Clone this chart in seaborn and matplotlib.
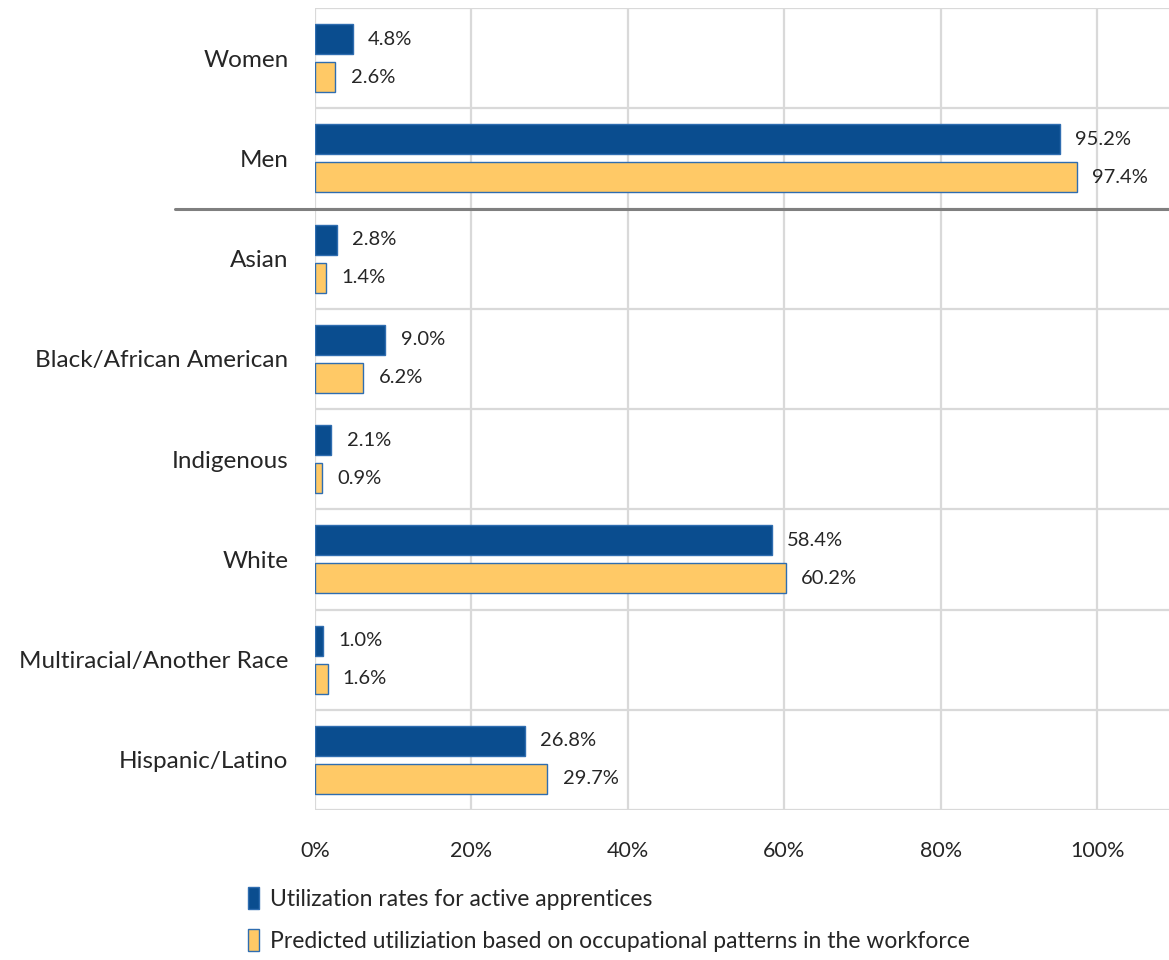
import matplotlib
matplotlib.use("Agg")
import matplotlib.pyplot as plt
import matplotlib.transforms as mtransforms
import seaborn as sns
import pandas as pd

# Groups shown on the vertical axis, top to bottom
categories = [
    "Women", "Men", "Asian", "Black/African American", "Indigenous",
    "White", "Multiracial/Another Race", "Hispanic/Latino",
]
# Share of active apprentices (percent)
apprentice_rates = [4.8, 95.2, 2.8, 9.0, 2.1, 58.4, 1.0, 26.8]
# Share predicted from occupational patterns in the workforce (percent)
predicted_rates = [2.6, 97.4, 1.4, 6.2, 0.9, 60.2, 1.6, 29.7]

series_names = [
    "Utilization rates for active apprentices",
    "Predicted utiliziation based on occupational patterns in the workforce",
]
x_ticks = [0, 20, 40, 60, 80, 100]
x_tick_labels = ["0%", "20%", "40%", "60%", "80%", "100%"]

BLUE = "#0A4D8F"
GOLD = "#FFC966"
EDGE = "#2F6DB0"
GRID = "#D9D9D9"

df = pd.DataFrame({
    "group": categories * 2,
    "series": [series_names[0]] * len(categories) + [series_names[1]] * len(categories),
    "value": apprentice_rates + predicted_rates,
})

sns.set_theme(style="white")
plt.rcParams["font.family"] = ["Lato", "DejaVu Sans"]

fig = plt.figure(figsize=(11.69, 9.6), dpi=100)
ax = fig.add_axes([315 / 1169, 1 - 810 / 960, 1 - 315 / 1169, (810 - 8) / 960])

sns.barplot(
    data=df, y="group", x="value", hue="series", order=categories,
    hue_order=series_names, palette=[BLUE, GOLD], saturation=1, orient="h",
    width=0.76, gap=0.21, edgecolor=EDGE, linewidth=1.0,
    errorbar=None, ax=ax, legend=True,
)

ax.set_xlim(0, 109.2)
ax.set_ylim(len(categories) - 0.5, -0.5)
ax.set_xlabel("")
ax.set_ylabel("")

# Light cell grid: vertical lines at each 20%, horizontal lines between groups
ax.set_xticks(x_ticks)
ax.set_xticklabels(x_tick_labels)
ax.set_yticks(range(len(categories)))
ax.set_yticklabels(categories)
ax.set_yticks([i - 0.5 for i in range(len(categories) + 1)], minor=True)
ax.grid(False)
ax.xaxis.grid(True, which="major", color=GRID, linewidth=1.6)
ax.yaxis.grid(True, which="minor", color=GRID, linewidth=1.6)
ax.set_axisbelow(True)
for s in ax.spines.values():
    s.set_visible(False)

ax.tick_params(axis="y", which="both", length=0, pad=19, labelsize=17.5, labelcolor="#262626")
ax.tick_params(axis="x", which="both", length=0, pad=22, labelsize=15.5, labelcolor="#262626")

# Value labels at the end of each bar
for container in ax.containers:
    ax.bar_label(container, labels=[f"{v:.1f}%" for v in container.datavalues],
                 padding=11, fontsize=14.5, color="#262626")

# Separator between the gender and race/ethnicity groups
trans = mtransforms.blended_transform_factory(ax.transAxes, ax.transData)
ax.plot([-140 / 854, 1.0], [1.5, 1.5], transform=trans, color="#7F7F7F",
        linewidth=2.2, clip_on=False, zorder=5)

# Legend stacked below the axis
handles, labels = ax.get_legend_handles_labels()
ax.get_legend().remove()
fig.legend(
    handles, labels, loc="upper left", bbox_to_anchor=(248 / 1169, 1 - 887 / 960),
    frameon=False, fontsize=16.5, handlelength=0.5, handleheight=1.1,
    handletextpad=0.45, labelspacing=0.85, borderaxespad=0, borderpad=0,
    labelcolor="#262626",
)

fig.savefig("out.png", dpi=100)
